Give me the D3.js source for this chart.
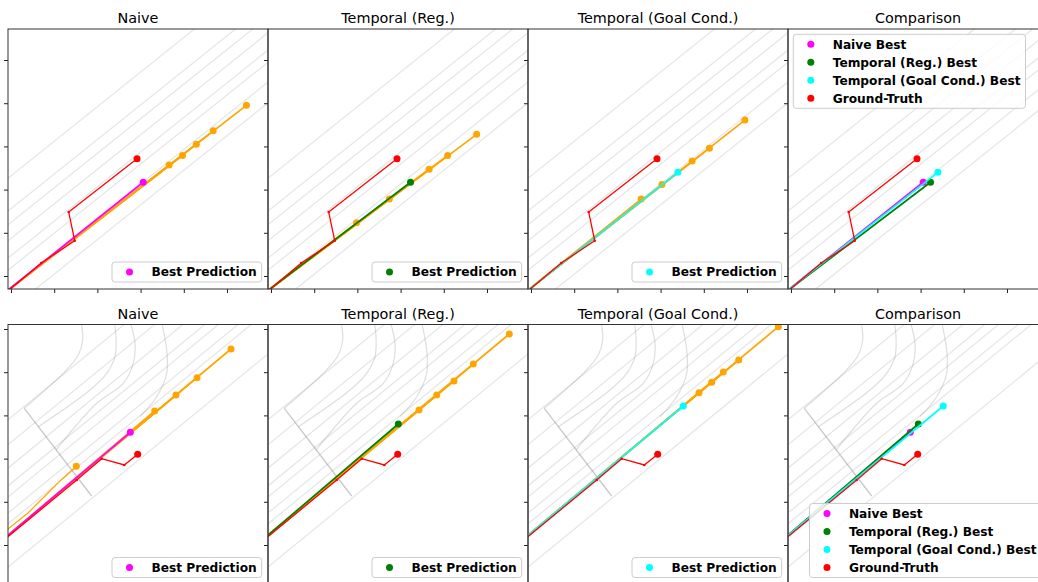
<!DOCTYPE html>
<html>
<head>
<meta charset="utf-8">
<script src="https://cdn.jsdelivr.net/npm/d3@7"></script>
<style>
  body { margin: 0; background: #fff; }
  svg { display: block; font-family: "DejaVu Sans", sans-serif; }
</style>
</head>
<body>
<div id="chart"></div>
<script>
// panel titles and legend labels
const titles = ["Naive", "Temporal (Reg.)", "Temporal (Goal Cond.)", "Comparison"];
const bestColors = ["magenta", "green", "cyan"];
const compLabels = ["Naive Best", "Temporal (Reg.) Best", "Temporal (Goal Cond.) Best", "Ground-Truth"];
const compColors = ["magenta", "green", "cyan", "red"];

const xTicks = [0, 10, 20, 30, 40, 50];
const yTicksTop = [0, 10, 20, 30, 40, 50];
const yTicksBottom = [-10, 0, 10, 20, 30, 40, 50];

// ---- scene 1 (top row), metres ----
const lanesTop = [
  [[-8, 16.8], [68, 77.6]],
  [[-8, 9.2], [68, 70.0]],
  [[-8, 6.0], [68, 66.8]],
  [[-8, 2.3], [68, 63.1]],
  [[-8, -1.7], [68, 59.1]],
  [[-8, -4.5], [68, 56.3]],
  [[-8, -9.1], [68, 51.7]],
  [[-8, -14.0], [68, 46.9]]
];
const gtTop = [[-3.5, -5.8], [7.0, 3.0], [14.75, 8.17], [13.36, 14.81], [29.17, 27.15]];
const startTop = [-3.5, -5.5];
const naiveTop = [[36.6, 25.7], [39.7, 27.9], [42.9, 30.5], [46.8, 33.6], [54.5, 39.5]];
const regTop = [[19.8, 12.3], [27.4, 17.8], [36.6, 24.7], [40.9, 27.9], [47.6, 32.8]];
const goalTop = [[25.5, 17.8], [30.3, 21.2], [37.3, 26.6], [41.3, 29.6], [49.5, 36.1]];
const naiveBestTop = [30.6, 21.7];
const regBestTop = [32.3, 21.7];
const goalBestTop = [34.0, 24.0];

// ---- scene 2 (bottom row), metres ----
const lanesBottom = [
  [[-8, 23.0], [68, 85.3]],
  [[-8, 17.2], [68, 79.5]],
  [[-8, 11.8], [68, 74.2]],
  [[-8, 7.7], [68, 70.0]],
  [[-8, 5.1], [68, 67.4]],
  [[-8, 1.4], [68, 63.7]],
  [[-8, -1.1], [68, 61.2]],
  [[-8, -11.1], [68, 51.2]]
];
const curvesBottom = [
  [[15.97, 53.2], [16.6, 47.45], [15.58, 43.98], [12.5, 40.12], [3.08, 31.64]],
  [[23.68, 53.2], [24.31, 48.22], [24.07, 43.59], [22.15, 39.75], [18.29, 35.88], [6.34, 27.38]],
  [[27.15, 53.2], [28.7, 46.69], [28.31, 42.06], [26.0, 37.43], [19.84, 32.8], [10.42, 21.99]],
  [[34.49, 53.2], [36.04, 45.14], [36.04, 39.75], [33.73, 34.33], [29.86, 29.7]]
];
const stopLineBottom = [[3.08, 31.64], [18.68, 11.34]];
const gtBottom = [[-3.47, -0.37], [15.21, 15.05], [21.0, 19.98], [26.23, 18.52], [29.33, 20.99]];
const startBottom = [-3.47, -0.1];
const naiveBottom = [[33.26, 31.02], [38.19, 34.72], [43.06, 38.73], [50.93, 45.37]];
const naiveShortBottom = [[-3.47, 1.62], [-0.69, 3.7], [3.94, 7.41], [8.56, 12.04], [11.64, 15.12], [15.12, 18.22]];
const regBottom = [[34.26, 31.25], [38.36, 34.72], [42.36, 37.96], [46.83, 41.9], [55.16, 48.84]];
const goalBottom = [[38.89, 35.25], [41.83, 37.66], [44.51, 40.05], [48.08, 42.82], [57.25, 50.53]];
const naiveBestBottom = [27.62, 26.09];
const regBestBottom = [29.47, 28.01];
const goalBestBottom = [35.25, 32.18];

// ---- layout ----
const W = 1038, H = 582;
const panelW = 260, panelH = 260;
const colX = [8, 268, 528, 788];
const xDomain = [-0.69, 59.49];

const rows = [
  { top: 29, yDomain: [-3.01, 57.18], yTicks: yTicksTop, lanes: lanesTop, curves: [], stops: [],
    gt: gtTop, start: startTop, preds: [naiveTop, regTop, goalTop], extra: [[], [], []],
    bests: [naiveBestTop, regBestTop, goalBestTop], compLoc: "upper left" },
  { top: 324.5, yDomain: [-9.14, 51.04], yTicks: yTicksBottom, lanes: lanesBottom, curves: curvesBottom, stops: [stopLineBottom],
    gt: gtBottom, start: startBottom, preds: [naiveBottom, regBottom, goalBottom], extra: [[naiveShortBottom], [], []],
    bests: [naiveBestBottom, regBestBottom, goalBestBottom], compLoc: "lower right" }
];

const svg = d3.select("#chart").append("svg").attr("width", W).attr("height", H);

function legend(g, items, loc) {
  const rowH = 18;
  const lg = g.append("g");
  const box = lg.append("rect").attr("rx", 3).attr("ry", 3)
    .attr("fill", "white").attr("fill-opacity", 0.8)
    .attr("stroke", "#cccccc").attr("stroke-width", 1);
  let maxLen = 0;
  items.forEach((it, i) => {
    lg.append("circle").attr("cx", 17.5).attr("cy", 10 + i * rowH).attr("r", 3.5).attr("fill", it.color);
    const t = lg.append("text").attr("x", 39.4).attr("y", 10 + i * rowH + 4.4)
      .style("font-size", "12.2px").style("font-weight", "bold").attr("fill", "black")
      .text(it.label);
    maxLen = Math.max(maxLen, t.node().getComputedTextLength());
  });
  const bw = 39.4 + maxLen + 5;
  const bh = 20 + rowH * (items.length - 1);
  box.attr("width", bw).attr("height", bh);
  let tx, ty;
  if (loc === "upper left") { tx = 5.3; ty = 5.3; }
  else { tx = panelW - 6.3 - bw; ty = panelH - 7 - bh; }
  lg.attr("transform", `translate(${tx},${ty})`);
}

rows.forEach((row, r) => {
  const x = d3.scaleLinear().domain(xDomain).range([0, panelW]);
  const y = d3.scaleLinear().domain(row.yDomain).range([panelH, 0]);
  const line = d3.line().x(d => x(d[0])).y(d => y(d[1]));
  const smooth = d3.line().x(d => x(d[0])).y(d => y(d[1])).curve(d3.curveCatmullRom.alpha(0.5));

  titles.forEach((title, c) => {
    const g = svg.append("g").attr("transform", `translate(${colX[c]},${row.top})`);
    const id = `clip-${r}-${c}`;
    g.append("clipPath").attr("id", id).append("rect").attr("width", panelW).attr("height", panelH);
    const plot = g.append("g").attr("clip-path", `url(#${id})`);

    // map
    plot.selectAll("path.lane").data(row.lanes).join("path").attr("class", "lane")
      .attr("d", line).attr("fill", "none").attr("stroke", "#888").attr("stroke-opacity", 0.22).attr("stroke-width", 1.2);
    plot.selectAll("path.curve").data(row.curves).join("path").attr("class", "curve")
      .attr("d", smooth).attr("fill", "none").attr("stroke", "#888").attr("stroke-opacity", 0.28).attr("stroke-width", 1.2);
    plot.selectAll("path.stop").data(row.stops).join("path").attr("class", "stop")
      .attr("d", line).attr("fill", "none").attr("stroke", "#888").attr("stroke-opacity", 0.45).attr("stroke-width", 1.3);

    if (c < 3) {
      const paths = row.preds[c].map(e => [row.start, e]);
      plot.selectAll("path.pred").data(paths).join("path").attr("class", "pred")
        .attr("d", line).attr("fill", "none").attr("stroke", "orange").attr("stroke-width", 1.7);
      plot.selectAll("path.extra").data(row.extra[c]).join("path").attr("class", "extra")
        .attr("d", line).attr("fill", "none").attr("stroke", "orange").attr("stroke-width", 1.2);
      const ends = paths.concat(row.extra[c]).map(p => p[p.length - 1]);
      plot.selectAll("circle.pred").data(ends).join("circle").attr("class", "pred")
        .attr("cx", d => x(d[0])).attr("cy", d => y(d[1])).attr("r", 3.5).attr("fill", "orange");
      const b = row.bests[c];
      plot.append("path").attr("d", line([row.start, b])).attr("fill", "none")
        .attr("stroke", bestColors[c]).attr("stroke-width", 1.7);
      plot.append("circle").attr("cx", x(b[0])).attr("cy", y(b[1])).attr("r", 3.5).attr("fill", bestColors[c]);
    } else {
      row.bests.forEach((b, k) => {
        plot.append("path").attr("d", line([row.start, b])).attr("fill", "none")
          .attr("stroke", bestColors[k]).attr("stroke-width", 1.7);
        plot.append("circle").attr("cx", x(b[0])).attr("cy", y(b[1])).attr("r", 3.5).attr("fill", bestColors[k]);
      });
    }

    // ground truth
    plot.append("path").attr("d", line(row.gt)).attr("fill", "none").attr("stroke", "red").attr("stroke-width", 1.3);
    plot.selectAll("circle.gtpt").data(row.gt.slice(1, -1)).join("circle").attr("class", "gtpt")
      .attr("cx", d => x(d[0])).attr("cy", d => y(d[1])).attr("r", 1.3).attr("fill", "red");
    const last = row.gt[row.gt.length - 1];
    plot.append("circle").attr("cx", x(last[0])).attr("cy", y(last[1])).attr("r", 3.5).attr("fill", "red");

    // axes (ticks only)
    g.append("g").call(d3.axisLeft(y).tickValues(row.yTicks).tickSize(4).tickFormat(""))
      .call(a => a.select(".domain").remove())
      .selectAll("line").attr("stroke", "#222");
    g.append("g").attr("transform", `translate(0,${panelH})`)
      .call(d3.axisBottom(x).tickValues(xTicks).tickSize(4).tickFormat(""))
      .call(a => a.select(".domain").remove())
      .selectAll("line").attr("stroke", "#222");
    g.append("rect").attr("width", panelW).attr("height", panelH)
      .attr("fill", "none").attr("stroke", "#333").attr("stroke-width", 1);

    g.append("text").attr("x", panelW / 2).attr("y", -6).attr("text-anchor", "middle")
      .style("font-size", "14.4px").attr("fill", "black").text(title);

    if (c < 3) {
      legend(g, [{ label: "Best Prediction", color: bestColors[c] }], "lower right");
    } else {
      legend(g, compLabels.map((l, k) => ({ label: l, color: compColors[k] })), row.compLoc);
    }
  });
});
</script>
</body>
</html>
